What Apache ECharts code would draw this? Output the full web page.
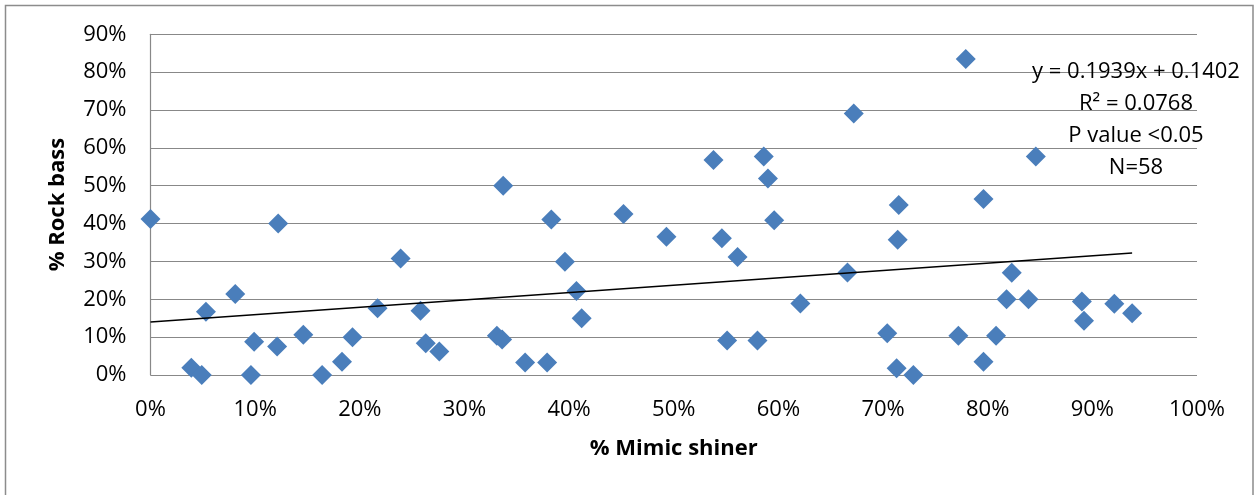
<!DOCTYPE html>
<html>
<head>
<meta charset="utf-8">
<title>% Rock bass vs % Mimic shiner</title>
<script src="https://cdn.jsdelivr.net/npm/echarts@6/dist/echarts.min.js"></script>
<style>
  html, body { margin: 0; padding: 0; background: #ffffff; }
  #chart { width: 1257px; height: 495px; }
</style>
</head>
<body>
<div id="chart"></div>
<script>
// Proportion of Mimic shiner (x) and Rock bass (y) per sample, N = 58
const mimicShiner = [
  0.000, 0.122, 0.081, 0.053, 0.146, 0.099, 0.121, 0.039, 0.049, 0.096,
  0.239, 0.217, 0.258, 0.193, 0.183, 0.164, 0.263, 0.276, 0.337, 0.383,
  0.452, 0.396, 0.407, 0.412, 0.331, 0.336, 0.358, 0.379, 0.538, 0.586,
  0.590, 0.596, 0.493, 0.546, 0.561, 0.621, 0.551, 0.580, 0.779, 0.672,
  0.796, 0.715, 0.714, 0.666, 0.823, 0.818, 0.839, 0.704, 0.772, 0.808,
  0.796, 0.713, 0.729, 0.846, 0.890, 0.892, 0.921, 0.938
];
const rockBass = [
  0.412, 0.400, 0.214, 0.167, 0.106, 0.088, 0.075, 0.019, 0.000, 0.000,
  0.308, 0.176, 0.170, 0.100, 0.035, 0.000, 0.084, 0.062, 0.500, 0.411,
  0.425, 0.299, 0.222, 0.150, 0.104, 0.094, 0.033, 0.033, 0.568, 0.577,
  0.519, 0.409, 0.365, 0.361, 0.312, 0.189, 0.091, 0.091, 0.835, 0.691,
  0.465, 0.449, 0.357, 0.271, 0.270, 0.200, 0.200, 0.110, 0.104, 0.104,
  0.035, 0.018, 0.000, 0.577, 0.194, 0.143, 0.188, 0.163
];

// Linear fit reported for the samples
const slope = 0.1939;
const intercept = 0.1402;
const statLines = ['y = 0.1939x + 0.1402', 'R² = 0.0768', 'P value <0.05', 'N=58'];

// Axis ranges
const xTicks = { min: 0, max: 1.0, interval: 0.1 };
const yTicks = { min: 0, max: 0.9, interval: 0.1 };

const points = mimicShiner.map((x, i) => [x, rockBass[i]]);
const xLo = Math.min(...mimicShiner);
const xHi = Math.max(...mimicShiner);
const trend = [[xLo, slope * xLo + intercept], [xHi, slope * xHi + intercept]];

const pct = v => Math.round(v * 100) + '%';
const FONT = '"Open Sans", "Noto Sans", sans-serif';

const chart = echarts.init(document.getElementById('chart'), null, { renderer: 'canvas' });
chart.setOption({
  backgroundColor: '#ffffff',
  animation: false,
  grid: { left: 150.5, right: 60, top: 34.3, bottom: 120, containLabel: false },
  xAxis: {
    type: 'value',
    min: xTicks.min, max: xTicks.max, interval: xTicks.interval,
    name: '% Mimic shiner',
    nameLocation: 'middle',
    nameGap: 63,
    nameTextStyle: { fontFamily: FONT, fontSize: 22, fontWeight: 'bold', color: '#000' },
    axisLine: { show: false },
    axisTick: { show: false },
    splitLine: { show: false },
    axisLabel: { formatter: pct, fontFamily: FONT, fontSize: 22, color: '#000', margin: 24 }
  },
  yAxis: {
    type: 'value',
    min: yTicks.min, max: yTicks.max, interval: yTicks.interval,
    name: '% Rock bass',
    nameLocation: 'middle',
    nameGap: 82,
    nameRotate: 90,
    nameTextStyle: { fontFamily: FONT, fontSize: 22, fontWeight: 'bold', color: '#000' },
    axisLine: { show: true, lineStyle: { color: '#888888', width: 1.2 } },
    axisTick: { show: false },
    splitLine: { show: true, lineStyle: { color: '#888888', width: 1.2 } },
    axisLabel: { formatter: pct, fontFamily: FONT, fontSize: 22, color: '#000', margin: 24 }
  },
  series: [
    {
      name: 'Samples',
      type: 'scatter',
      data: points,
      symbol: 'diamond',
      symbolSize: 20,
      itemStyle: { color: '#4A7EBB', opacity: 1 },
      z: 3
    },
    {
      name: 'Linear fit',
      type: 'line',
      data: trend,
      symbol: 'none',
      lineStyle: { color: '#000000', width: 1.5 },
      z: 4
    }
  ],
  graphic: [
    {
      type: 'rect',
      shape: { x: 5.5, y: 5.5, width: 1247.5, height: 500 },
      style: { fill: 'none', stroke: '#8c8c8c', lineWidth: 1.5 },
      silent: true,
      z: 0
    },
    {
      type: 'text',
      x: 1136, y: 56,
      style: {
        text: statLines.join('\n'),
        align: 'center',
        verticalAlign: 'top',
        font: '22px ' + FONT,
        lineHeight: 32,
        fill: '#000000'
      },
      z: 10
    }
  ]
});
</script>
</body>
</html>
